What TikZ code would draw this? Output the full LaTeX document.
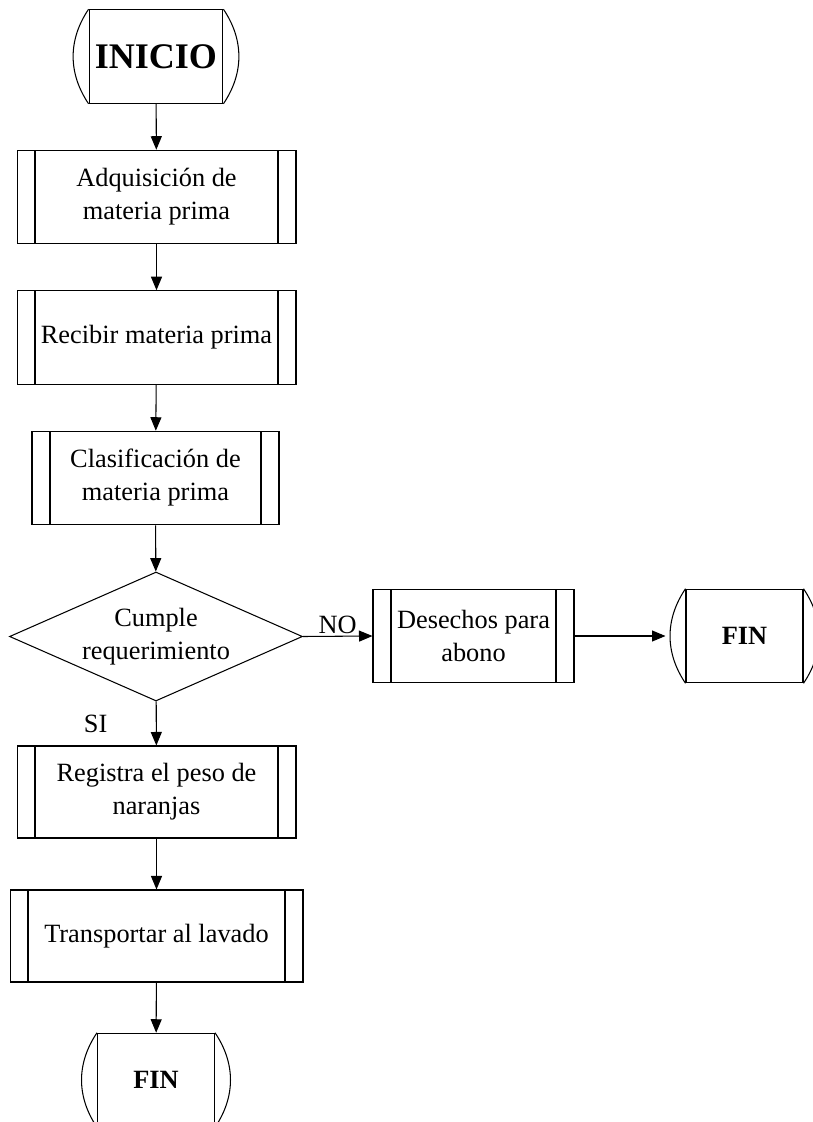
\documentclass[tikz,border=0pt]{standalone}
\usepackage{fontspec}
\setmainfont{Liberation Serif}
\usepackage{tikz}
\usetikzlibrary{shapes.geometric, arrows.meta, calc}

\tikzset{
  flecha/.style={-{Triangle[length=0.27cm, width=0.22cm]}},
  proceso/.style={draw, rectangle, minimum height=1.87cm, align=center, inner sep=0pt,
    path picture={
      \draw ([xshift=0.36cm]path picture bounding box.north west) -- ([xshift=0.36cm]path picture bounding box.south west);
      \draw ([xshift=-0.36cm]path picture bounding box.north east) -- ([xshift=-0.36cm]path picture bounding box.south east);
    }},
  terminal/.style={draw, rectangle, minimum width=2.34cm, minimum height=1.87cm,
    font=\fontsize{15}{18}\selectfont\bfseries,
    append after command={
      (\tikzlastnode.north west) edge[bend right=34] (\tikzlastnode.south west)
      (\tikzlastnode.north east) edge[bend left=34] (\tikzlastnode.south east)
    }},
  decision/.style={draw, diamond, aspect=2.27, inner sep=0pt, minimum width=5.86cm, minimum height=2.58cm, align=center},
}

\begin{document}
\begin{tikzpicture}[x=0.02cm, y=-0.02cm, line width=0.6pt, font=\fontsize{15}{18.8}\selectfont]
      \useasboundingbox (0,0) rectangle (813,1122);

      % main column
      \node[terminal, font=\fontsize{20.5}{24}\selectfont\bfseries] (inicio) at (156,56.5) {INICIO};
      \node[proceso, minimum width=5.58cm] (adq) at (156.5,197) {Adquisición de\\materia prima};
      \node[proceso, minimum width=5.58cm] (rec) at (156.5,337.5) {Recibir materia prima};
      \node[proceso, minimum width=4.94cm] (cla) at (155.5,478) {Clasificación de\\materia prima};
      \node[decision] (cumple) at (156,636.5) {Cumple\\requerimiento};
      \node[proceso, minimum width=5.58cm, minimum height=1.84cm] (reg) at (156.5,792) {Registra el peso de\\naranjas};
      \node[proceso, minimum width=5.86cm, minimum height=1.84cm] (tra) at (156.5,936) {Transportar al lavado};
      \node[terminal] (fin) at (156,1080) {FIN};

      % rejected branch
      \node[proceso, minimum width=4.02cm] (des) at (473.5,636) {Desechos para\\abono};
      \node[terminal] (finb) at (744.5,636) {FIN};

      % connectors
      \draw[flecha] (inicio) -- (adq);
      \draw[flecha] (adq) -- (rec);
      \draw[flecha] (rec) -- (cla);
      \draw[flecha] (cla) -- (cumple);
      \draw[flecha] (cumple) -- node[midway, left, xshift=-0.85cm] {SI} (reg);
      \draw[flecha] (reg) -- (tra);
      \draw[flecha] (tra) -- (fin);
      \draw[flecha] (cumple.east) -- node[above, inner sep=1pt] {NO} (des.west);
      \draw[flecha] (des.east) -- ($(finb.west)+(-0.4cm,0)$);
    \end{tikzpicture}
\end{document}
